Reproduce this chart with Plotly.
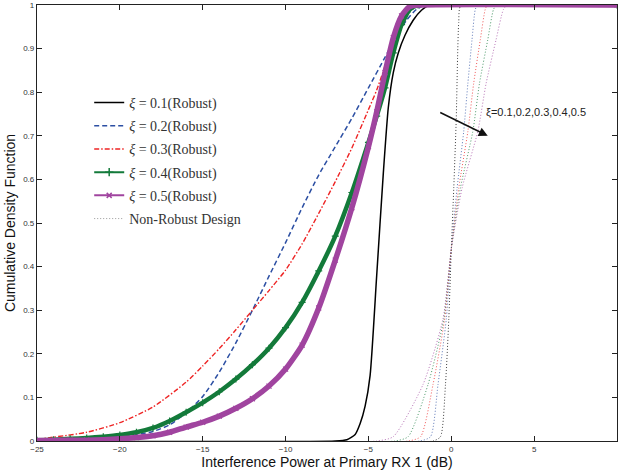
import plotly.graph_objects as go

# ---- data ----
x_r1 = [-25, -7, -6.3, -5.8, -5.5, -5.2, -4.9, -4.5, -4.1, -3.8, -3.5, -3.2, -2.8, -2.3, -1.8, -1.3, 10]
y_r1 = [0, 0, 0.003, 0.015, 0.04, 0.08, 0.15, 0.38, 0.615, 0.765, 0.845, 0.89, 0.93, 0.965, 0.988, 1, 1]

x_r2 = [-25, -22, -20, -18, -17, -16, -15, -14, -13, -12, -11, -10, -9, -8, -7, -6, -5, -4, -3.3, -2.7, -2.1, -1.5, 10]
y_r2 = [0.001, 0.004, 0.009, 0.022, 0.037, 0.065, 0.102, 0.158, 0.225, 0.30, 0.378, 0.455, 0.535, 0.61, 0.675, 0.74, 0.81, 0.88, 0.93, 0.965, 0.99, 1, 1]

x_r3 = [-25, -22, -20, -18, -16, -15, -14, -13, -12, -11, -10, -9, -8, -7, -6, -5, -4.5, -4, -3.5, -3, -2.5, -2, 10]
y_r3 = [0.004, 0.02, 0.042, 0.078, 0.135, 0.172, 0.212, 0.255, 0.30, 0.345, 0.392, 0.452, 0.522, 0.595, 0.672, 0.76, 0.805, 0.86, 0.92, 0.965, 0.99, 1, 1]

x_r4 = [-25, -24, -23, -22, -21, -20, -19, -18, -17, -16, -15, -14, -13, -12, -11, -10, -9, -8, -7, -6, -5, -4.5, -4, -3.5, -3, -2.5, -2, 10]
y_r4 = [0.002, 0.003, 0.005, 0.007, 0.01, 0.014, 0.02, 0.03, 0.046, 0.066, 0.088, 0.113, 0.142, 0.175, 0.213, 0.26, 0.318, 0.39, 0.47, 0.57, 0.685, 0.745, 0.81, 0.89, 0.955, 0.99, 1, 1]

x_r5 = [-25, -24, -23, -22, -21, -20, -19, -18, -17, -16, -15, -14, -13, -12, -11, -10, -9, -8, -7, -6, -5, -4.5, -4, -3.5, -3, -2.5, -2, 10]
y_r5 = [0.001, 0.001, 0.002, 0.002, 0.003, 0.005, 0.008, 0.012, 0.02, 0.032, 0.043, 0.057, 0.075, 0.097, 0.126, 0.165, 0.22, 0.305, 0.415, 0.535, 0.675, 0.755, 0.845, 0.925, 0.975, 0.997, 1, 1]

# non-robust design curves (xi = 0.1 ... 0.5)
x_n1 = [-25, -1.1, -0.65, -0.35, -0.15, 0, 0.15, 0.3, 0.38, 0.45, 0.6, 10]
x_n2 = [-25, -1.9, -1.25, -0.8, -0.3, 0, 0.35, 0.75, 1.0, 1.25, 1.45, 1.6, 10]
x_n3 = [-25, -2.6, -1.85, -1.1, -0.4, 0, 0.45, 1.0, 1.35, 1.75, 2.05, 2.2, 10]
x_n4 = [-25, -3.4, -2.6, -1.4, -0.45, 0, 0.55, 1.3, 1.7, 2.2, 2.55, 2.75, 10]
x_n5 = [-25, -4.5, -3.5, -1.7, -0.5, 0, 0.65, 1.6, 2.1, 2.7, 3.15, 3.4, 10]
y_n1 = [0, 0, 0.01, 0.13, 0.28, 0.44, 0.58, 0.74, 0.88, 0.96, 1, 1]
y_nr = [0, 0, 0.01, 0.13, 0.28, 0.44, 0.58, 0.71, 0.82, 0.92, 0.99, 1, 1]

names = ["<i>ξ</i> = 0.1(Robust)", "<i>ξ</i> = 0.2(Robust)", "<i>ξ</i> = 0.3(Robust)",
         "<i>ξ</i> = 0.4(Robust)", "<i>ξ</i> = 0.5(Robust)", "Non-Robust Design"]
colors = ["#000000", "#2c4fa3", "#ee2424", "#137a3a", "#a0449f"]

xticks = [-25, -20, -15, -10, -5, 0, 5, 10]
yticks = [0, 0.1, 0.2, 0.3, 0.4, 0.5, 0.6, 0.7, 0.8, 0.9, 1]

fig = go.Figure()

# non-robust dotted curves (drawn first, underneath)
nr = [(x_n1, y_n1), (x_n2, y_nr), (x_n3, y_nr), (x_n4, y_nr), (x_n5, y_nr)]
for i, (xx, yy) in enumerate(nr):
    fig.add_trace(go.Scatter(x=xx, y=yy, mode="lines", showlegend=False,
                             line=dict(color=colors[i], width=1, dash="1px,2px", shape="spline", smoothing=0.6),
                             opacity=0.75, hoverinfo="skip"))

# robust curves
fig.add_trace(go.Scatter(x=x_r1, y=y_r1, mode="lines", name=names[0], legendgroup="a",
                         line=dict(color=colors[0], width=1.5, shape="spline", smoothing=0.6)))
fig.add_trace(go.Scatter(x=x_r2, y=y_r2, mode="lines", name=names[1], legendgroup="b",
                         line=dict(color=colors[1], width=1.5, dash="5px,3px", shape="spline", smoothing=0.6)))
fig.add_trace(go.Scatter(x=x_r3, y=y_r3, mode="lines", name=names[2], legendgroup="c",
                         line=dict(color=colors[2], width=1.4, dash="5px,2px,1.5px,2px", shape="spline", smoothing=0.6)))
fig.add_trace(go.Scatter(x=x_r4, y=y_r4, mode="lines+markers", showlegend=False, legendgroup="d",
                         line=dict(color=colors[3], width=4.5, shape="spline", smoothing=0.6),
                         marker=dict(symbol="cross-thin", size=5, line=dict(color=colors[3], width=1.2))))
fig.add_trace(go.Scatter(x=x_r5, y=y_r5, mode="lines+markers", showlegend=False, legendgroup="e",
                         line=dict(color=colors[4], width=5.5, shape="spline", smoothing=0.6),
                         marker=dict(symbol="x-thin", size=5, line=dict(color=colors[4], width=1.2))))

# legend proxies (thin line + marker as in the reference legend)
fig.add_trace(go.Scatter(x=[None], y=[None], mode="lines+markers", name=names[3], legendgroup="d",
                         line=dict(color=colors[3], width=2),
                         marker=dict(symbol="cross-thin", size=6, line=dict(color=colors[3], width=1.5))))
fig.add_trace(go.Scatter(x=[None], y=[None], mode="lines+markers", name=names[4], legendgroup="e",
                         line=dict(color=colors[4], width=2),
                         marker=dict(symbol="x-thin", size=5, line=dict(color=colors[4], width=1.5))))
fig.add_trace(go.Scatter(x=[None], y=[None], mode="lines", name=names[5], legendgroup="f",
                         line=dict(color="#999999", width=1, dash="1px,2px")))

fig.add_annotation(x=2.2, y=0.70, ax=-49, ay=-24, xref="x", yref="y",
                   showarrow=True, arrowhead=2, arrowsize=1.2, arrowwidth=1.5, arrowcolor="#111111",
                   text="", standoff=0)
fig.add_annotation(x=2.0, y=0.755, xref="x", yref="y", showarrow=False, xanchor="left",
                   text="ξ=0.1,0.2,0.3,0.4,0.5", font=dict(family="Arial, Liberation Sans", size=11, color="#222222"))

axis_common = dict(showline=True, linecolor="#222222", linewidth=1.2, mirror="ticks",
                   ticks="inside", ticklen=5, tickcolor="#222222", showgrid=False, zeroline=False,
                   tickfont=dict(family="Arial, Liberation Sans", size=8, color="#333333"))

fig.update_layout(
    width=618, height=475,
    margin=dict(l=37, r=1, t=5, b=34),
    paper_bgcolor="white", plot_bgcolor="white",
    xaxis=dict(range=[-25, 10], tickvals=xticks, **axis_common,
               title=dict(text="Interference Power at Primary RX 1 (dB)", standoff=4,
                          font=dict(family="Arial, Liberation Sans", size=14, color="#111111"))),
    yaxis=dict(range=[0, 1], tickvals=yticks, **axis_common,
               title=dict(text="Cumulative Density Function", standoff=4,
                          font=dict(family="Arial, Liberation Sans", size=14, color="#111111"))),
    legend=dict(x=0.09, y=0.812, xanchor="left", yanchor="top", bgcolor="rgba(0,0,0,0)",
                tracegroupgap=2, itemwidth=30,
                font=dict(family="Liberation Serif, Times New Roman", size=14, color="#333333")),
    showlegend=True,
)

fig.write_html("out.html", config={"displayModeBar": False},
               post_script="document.body.style.margin='0';document.body.style.padding='0';")
